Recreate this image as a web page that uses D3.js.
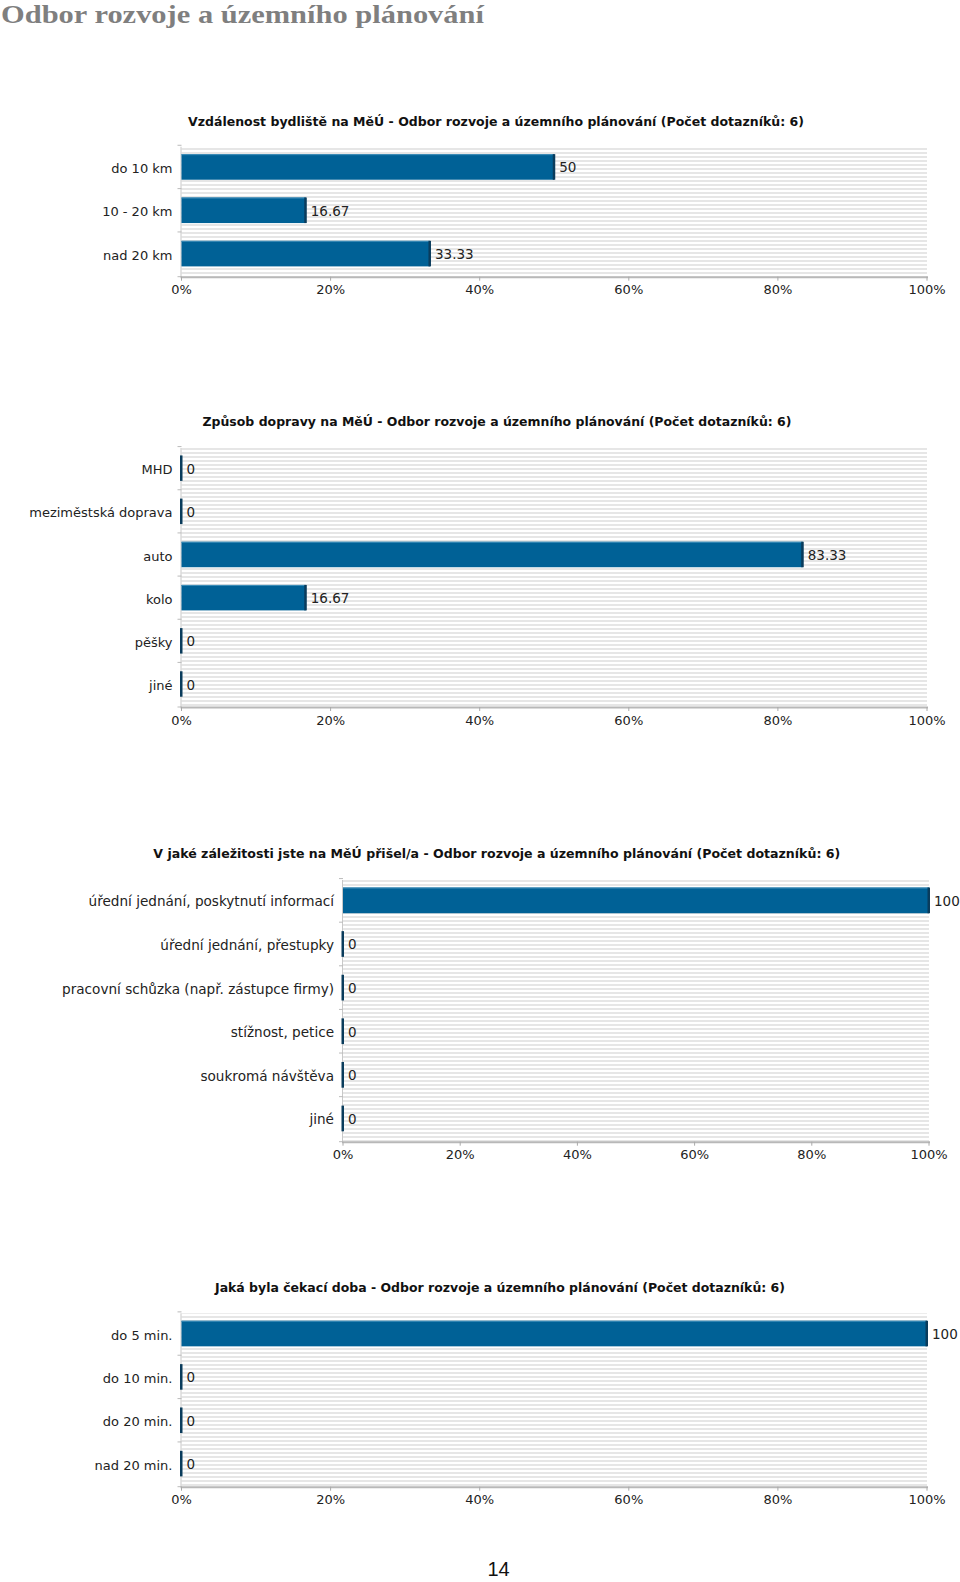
<!DOCTYPE html>
<html>
<head>
<meta charset="utf-8">
<script src="https://cdn.jsdelivr.net/npm/d3@7"></script>
<style>
  html, body { margin: 0; padding: 0; background: #fff; }
  svg { display: block; }
</style>
</head>
<body>
<svg id="page" width="960" height="1582"></svg>
<script>
// ---------------- DATA ----------------
const pageTitle = "Odbor rozvoje a územního plánování";
const pageNumber = "14";

const xTicks = [0, 20, 40, 60, 80, 100];

const title1 = "Vzdálenost bydliště na MěÚ - Odbor rozvoje a územního plánování (Počet dotazníků: 6)";
const categories1 = ["do 10 km", "10 - 20 km", "nad 20 km"];
const values1 = [50, 16.67, 33.33];

const title2 = "Způsob dopravy na MěÚ - Odbor rozvoje a územního plánování (Počet dotazníků: 6)";
const categories2 = ["MHD", "meziměstská doprava", "auto", "kolo", "pěšky", "jiné"];
const values2 = [0, 0, 83.33, 16.67, 0, 0];

const title3 = "V jaké záležitosti jste na MěÚ přišel/a - Odbor rozvoje a územního plánování (Počet dotazníků: 6)";
const categories3 = ["úřední jednání, poskytnutí informací", "úřední jednání, přestupky", "pracovní schůzka (např. zástupce firmy)", "stížnost, petice", "soukromá návštěva", "jiné"];
const values3 = [100, 0, 0, 0, 0, 0];

const title4 = "Jaká byla čekací doba - Odbor rozvoje a územního plánování (Počet dotazníků: 6)";
const categories4 = ["do 5 min.", "do 10 min.", "do 20 min.", "nad 20 min."];
const values4 = [100, 0, 0, 0];

// ---------------- DRAWING ----------------
const svg = d3.select("#page");
const defs = svg.append("defs");
const pat = defs.append("pattern")
  .attr("id", "stripes").attr("patternUnits", "userSpaceOnUse")
  .attr("width", 8).attr("height", 4);
pat.append("rect").attr("width", 8).attr("height", 4).attr("fill", "#ffffff");
pat.append("rect").attr("y", 0).attr("width", 8).attr("height", 2).attr("fill", "#e6e6e6");

// page heading
svg.append("text")
  .attr("x", 1).attr("y", 22.5)
  .attr("font-family", "'Liberation Serif', serif")
  .attr("font-weight", "bold")
  .attr("font-size", 24.5)
  .attr("fill", "#7f7f7f")
  .attr("textLength", 483).attr("lengthAdjust", "spacingAndGlyphs")
  .text(pageTitle);

// page number
svg.append("text")
  .attr("x", 498.5).attr("y", 1576)
  .attr("text-anchor", "middle")
  .attr("font-family", "'Liberation Sans', sans-serif")
  .attr("font-size", 20)
  .attr("fill", "#111")
  .text(pageNumber);

const FONT = "'DejaVu Sans', Verdana, sans-serif";

function drawChart(cfg, title, categories, values) {
  const g = svg.append("g");
  const x = d3.scaleLinear().domain([0, 100]).range([cfg.left, cfg.right]);
  const y = d3.scaleBand().domain(categories).range([cfg.top, cfg.bottom])
    .paddingInner(0.41).paddingOuter(0.205).align(0.42);

  // title
  g.append("text")
    .attr("x", cfg.titleX).attr("y", cfg.titleY + 3)
    .attr("font-family", FONT).attr("font-weight", "bold")
    .attr("font-size", 12.5).attr("fill", "#111")
    .attr("textLength", cfg.titleW).attr("lengthAdjust", "spacingAndGlyphs")
    .text(title);

  // striped plot background
  g.append("rect")
    .attr("x", x(0)).attr("y", cfg.top)
    .attr("width", x(100) - x(0)).attr("height", cfg.bottom - cfg.top)
    .attr("fill", "url(#stripes)");

  // left axis (band boundaries ticks)
  g.append("line")
    .attr("x1", x(0) - 0.5).attr("x2", x(0) - 0.5)
    .attr("y1", cfg.top).attr("y2", cfg.bottom)
    .attr("stroke", "#c8c8c8").attr("stroke-width", 1);
  const bounds = categories.map(c => y(c) - y.step() * y.paddingInner() / 2).concat([cfg.bottom]);
  g.selectAll(".ltick").data(bounds).join("line")
    .attr("x1", x(0) - 4).attr("x2", x(0))
    .attr("y1", d => d).attr("y2", d => d)
    .attr("stroke", "#bbbbbb").attr("stroke-width", 1);

  // category labels
  g.selectAll(".cat").data(categories).join("text")
    .attr("x", x(0) - 9)
    .attr("y", d => y(d) + y.bandwidth() / 2 + 6)
    .attr("text-anchor", "end")
    .attr("font-family", FONT).attr("font-size", cfg.labelSize).attr("fill", "#222")
    .text(d => d);

  // bars
  const data = categories.map((c, i) => ({ c, v: values[i] }));
  g.selectAll(".bar").data(data).join("rect")
    .attr("x", x(0)).attr("y", d => y(d.c))
    .attr("width", d => x(d.v) - x(0)).attr("height", y.bandwidth())
    .attr("fill", "#006196");
  // top highlight
  g.selectAll(".hl").data(data.filter(d => d.v > 0)).join("rect")
    .attr("x", x(0)).attr("y", d => y(d.c))
    .attr("width", d => x(d.v) - x(0)).attr("height", 1)
    .attr("fill", "#3f8fba");
  // dark end edge
  g.selectAll(".edge").data(data).join("rect")
    .attr("x", d => x(d.v) - 1.5).attr("y", d => y(d.c))
    .attr("width", 2.5).attr("height", y.bandwidth())
    .attr("fill", "#0a3c5c");

  // value labels
  g.selectAll(".val").data(data).join("text")
    .attr("x", d => x(d.v) + 5)
    .attr("y", d => y(d.c) + y.bandwidth() / 2 + 5.5)
    .attr("font-family", FONT).attr("font-size", 13.5).attr("fill", "#222")
    .text(d => d3.format("~f")(d.v));

  // bottom axis
  g.append("line")
    .attr("x1", x(0) - 1).attr("x2", x(100) + 1)
    .attr("y1", cfg.bottom + 0.5).attr("y2", cfg.bottom + 0.5)
    .attr("stroke", "#b8b8b8").attr("stroke-width", 2);
  g.selectAll(".xt").data(xTicks).join("line")
    .attr("x1", d => x(d)).attr("x2", d => x(d))
    .attr("y1", cfg.bottom).attr("y2", cfg.bottom + 4)
    .attr("stroke", "#aaaaaa").attr("stroke-width", 1);
  g.selectAll(".xl").data(xTicks).join("text")
    .attr("x", d => x(d)).attr("y", cfg.bottom + 17.5)
    .attr("text-anchor", "middle")
    .attr("font-family", FONT).attr("font-size", 13).attr("fill", "#222")
    .text(d => d + "%");
}

drawChart({ left: 181.5, right: 927, top: 146.7, bottom: 276.7, titleX: 188, titleY: 123, titleW: 616, labelSize: 13 }, title1, categories1, values1);
drawChart({ left: 181.5, right: 927, top: 448, bottom: 707, titleX: 202.5, titleY: 423, titleW: 589, labelSize: 13 }, title2, categories2, values2);
drawChart({ left: 343, right: 929, top: 880, bottom: 1141.7, titleX: 153.3, titleY: 855, titleW: 687, labelSize: 13.6 }, title3, categories3, values3);
drawChart({ left: 181.5, right: 927, top: 1313.3, bottom: 1486.7, titleX: 215, titleY: 1289, titleW: 570, labelSize: 13 }, title4, categories4, values4);
</script>
</body>
</html>
